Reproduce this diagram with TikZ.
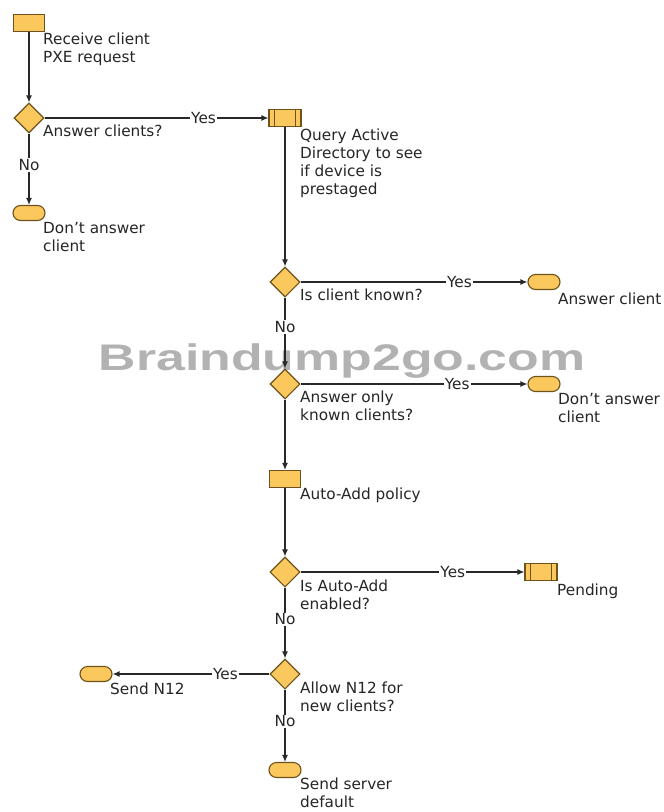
\documentclass[tikz,border=0pt]{standalone}
\usepackage{fontspec}
\setmainfont{DejaVu Sans}
\newfontfamily\wmfont{Liberation Sans}
\usetikzlibrary{shapes.geometric,arrows.meta}
\definecolor{boxfill}{RGB}{250,200,92}
\definecolor{boxline}{RGB}{110,82,30}
\definecolor{lnc}{RGB}{40,40,40}
\definecolor{wmc}{RGB}{178,178,178}
\tikzset{
  shp/.style={draw=boxline,fill=boxfill,line width=1.1pt,inner sep=0pt},
  proc/.style={shp,rectangle,minimum width=31pt,minimum height=17pt},
  pbar/.style={proc,minimum width=32pt},
  dec/.style={shp,diamond,minimum width=30pt,minimum height=30pt},
  term/.style={shp,rectangle,rounded corners=7.5pt,minimum width=32pt,minimum height=15pt},
  txt/.style={anchor=north west,inner sep=0pt,align=left,font=\fontsize{15.3}{18}\selectfont,text=black!85},
  flow/.style={draw=lnc,line width=1.2pt,-{Latex[length=7pt,width=6pt]}},
  lab/.style={fill=white,inner sep=1.2pt,font=\fontsize{15.3}{18}\selectfont,text=black!85},
}
\begin{document}
\begin{tikzpicture}[x=1pt,y=-1pt]
\useasboundingbox[fill=white] (0,0) rectangle (664,812);
% watermark
\node[inner sep=0pt,anchor=base,xscale=1.4,text=wmc,font=\wmfont\bfseries\fontsize{37}{40}\selectfont] (wm) at (342,370) {Braindump2go.com};
% shapes
\node[proc] (r1) at (29,23) {};
\node[dec] (d1) at (29,118) {};
\node[term] (t1) at (29,213) {};
\node[pbar] (q1) at (285,118) {};
\node[dec] (d2) at (285,282) {};
\node[term] (t2) at (544,282) {};
\node[dec] (d3) at (285,384) {};
\node[term] (t3) at (544,384) {};
\node[proc] (r2) at (285,479) {};
\node[dec] (d4) at (285,572) {};
\node[pbar] (q2) at (541,572) {};
\node[dec] (d5) at (285,674) {};
\node[term] (t4) at (96,674) {};
\node[term] (t5) at (285,770) {};
% inner bars of predefined process boxes
\foreach \b in {q1,q2}{
  \draw[boxline,line width=1.1pt] ([xshift=6pt]\b.north west) -- ([xshift=6pt]\b.south west);
  \draw[boxline,line width=1.1pt] ([xshift=-6pt]\b.north east) -- ([xshift=-6pt]\b.south east);
}
% texts
\node[txt] (x1) at (43,33) {Receive client\\PXE request};
\node[txt] (x2) at (43,125) {Answer clients?};
\node[txt] (x3) at (43,222) {Don’t answer\\client};
\node[txt] (x4) at (300,129) {Query Active\\Directory to see\\if device is\\prestaged};
\node[txt] (x5) at (300,289) {Is client known?};
\node[txt] (x6) at (558,293) {Answer client};
\node[txt] (x7) at (300,391) {Answer only\\known clients?};
\node[txt] (x8) at (558,393) {Don’t answer\\client};
\node[txt] (x9) at (300,488) {Auto-Add policy};
\node[txt] (x10) at (300,580) {Is Auto-Add\\enabled?};
\node[txt] (x11) at (557,584) {Pending};
\node[txt] (x12) at (300,682) {Allow N12 for\\new clients?};
\node[txt] (x13) at (110,683) {Send N12};
\node[txt] (x14) at (300,778) {Send server\\default};
% connectors
\draw[flow] (r1.south) -- (d1.north);
\draw[flow] (d1.east) -- node[lab,pos=0.71] {Yes} (q1.west);
\draw[flow] (d1.south) -- node[lab,pos=0.44] {No} (t1.north);
\draw[flow] (q1.south) -- (d2.north);
\draw[flow] (d2.east) -- node[lab,pos=0.7] {Yes} (t2.west);
\draw[flow] (d2.south) -- node[lab,pos=0.41] {No} (d3.north);
\draw[flow] (d3.east) -- node[lab,pos=0.69] {Yes} (t3.west);
\draw[flow] (d3.south) -- (r2.north);
\draw[flow] (r2.south) -- (d4.north);
\draw[flow] (d4.east) -- node[lab,pos=0.68] {Yes} (q2.west);
\draw[flow] (d4.south) -- node[lab,pos=0.45] {No} (d5.north);
\draw[flow] (d5.west) -- node[lab,pos=0.28] {Yes} (t4.east);
\draw[flow] (d5.south) -- node[lab,pos=0.44] {No} (t5.north);
\end{tikzpicture}
\end{document}
